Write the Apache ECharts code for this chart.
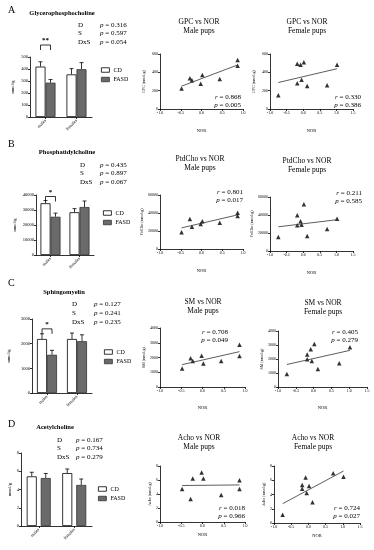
<!DOCTYPE html>
<html><head><meta charset="utf-8">
<script src="https://cdn.jsdelivr.net/npm/echarts/dist/echarts.min.js"></script>
<style>html,body{margin:0;padding:0;background:#fff}#c{width:374px;height:550px}</style>
</head><body><div id="c"></div>
<script>
// ---------------- DATA ----------------
const groups = ['males', 'females'];
const statLabels = ['D', 'S', 'DxS'];
const pupLabels = ['Male pups', 'Female pups'];

// A Glycerophosphocholine (nmol/g)
const gpcCD = [420, 355];
const gpcCDsem = [40, 48];
const gpcFASD = [286, 398];
const gpcFASDsem = [26, 55];
const gpcStats = ['0.316', '0.597', '0.054'];
const gpcSig = ['**', 600];

// B Phosphatidylcholine
const pcCD = [34500, 28500];
const pcCDsem = [1800, 2400];
const pcFASD = [25500, 32000];
const pcFASDsem = [2400, 4000];
const pcStats = ['0.435', '0.897', '0.067'];
const pcSig = ['*', 39000];

// C Sphingomyelin
const smCD = [2190, 2190];
const smCDsem = [210, 240];
const smFASD = [1550, 2100];
const smFASDsem = [180, 260];
const smStats = ['0.127', '0.241', '0.235'];
const smSig = ['*', 2600];

// D Acetylcholine
const achCD = [5.44, 5.8];
const achCDsem = [0.45, 0.45];
const achFASD = [5.26, 4.5];
const achFASDsem = [0.5, 0.65];
const achStats = ['0.167', '0.734', '0.279'];

// NOR discrimination index (x values)
const maleNOR = [-0.48, -0.28, -0.23, -0.02, 0.02, 0.44, 0.87, 0.87];
const femaleNOR = [-0.75, -0.18, -0.18, -0.08, -0.05, 0.02, 0.12, 0.72, 1.02];

const gpcMale = [225, 335, 313, 276, 371, 327, 535, 473];
const gpcFemale = [149, 495, 280, 484, 320, 509, 251, 258, 484];
const gpcMaleRP = ['0.868', '0.005'];
const gpcFemaleRP = ['0.330', '0.386'];

const pcMale = [18500, 33300, 24800, 27800, 30700, 29300, 40400, 36700];
const pcFemale = [15600, 39600, 28500, 33000, 29300, 51900, 16700, 24400, 35900];
const pcMaleRP = ['0.801', '0.017'];
const pcFemaleRP = ['0.211', '0.585'];

const smMale = [1257, 1943, 1760, 2126, 1600, 1760, 2857, 2103];
const smFemale = [923, 2320, 1990, 2700, 1850, 3080, 1280, 1700, 2840];
const smMaleRP = ['0.708', '0.049'];
const smFemaleRP = ['0.405', '0.279'];

const achMale = [4.7, 3.3, 6.2, 7.06, 6.2, 3.86, 5.98, 4.7];
const achFemale = [1.16, 4.8, 5.35, 6.4, 4.2, 5.2, 2.9, 7.0, 6.5];
const achMaleRP = ['0.018', '0.966'];
const achFemaleRP = ['0.724', '0.027'];

// ---------------- BUILD ----------------
const FONT = 'Liberation Serif';
const option = { animation: false, grid: [], xAxis: [], yAxis: [], series: [], graphic: [], legend: [] };

function txt(x, y, text, o) {
  o = o || {};
  const size = o.size || 7;
  const al = o.align || 'left';
  option.graphic.push({
    type: 'text', x: x, y: y, silent: true,
    style: {
      text: text, fill: '#000', fontFamily: FONT, fontSize: size, fontWeight: o.weight || 'normal',
      align: al, verticalAlign: 'middle', textAlign: al, textVerticalAlign: 'middle',
      rich: { i: { fontStyle: 'italic', fontSize: size, fontFamily: FONT, fill: '#000' } }
    }
  });
}

const axisLineS = { show: true, onZero: false, lineStyle: { color: '#000', width: 0.8 } };
const tickS = { show: true, length: 2, lineStyle: { color: '#000', width: 0.8 } };
const labS = (sz, m) => ({ fontSize: sz, color: '#000', fontFamily: FONT, margin: m });

function barPanel(L, d) {
  const gi = option.grid.length;
  option.grid.push({ left: L.left, top: L.top, width: L.width, height: L.height, containLabel: false, outerBoundsMode: 'none' });
  option.xAxis.push({ gridIndex: gi, type: 'category', data: groups, axisLine: axisLineS,
    axisTick: Object.assign({ alignWithLabel: true }, tickS),
    axisLabel: Object.assign({ rotate: 45, interval: 0 }, labS(4.5, 3)), splitLine: { show: false } });
  option.yAxis.push({ gridIndex: gi, type: 'value', min: 0, max: d.max, interval: d.interval,
    axisLine: axisLineS, axisTick: tickS, axisLabel: Object.assign({ formatter: v => String(v) }, labS(4.5, 2)), splitLine: { show: false },
    name: 'nmol/g', nameLocation: 'middle', nameGap: L.nameGap, nameRotate: 90,
    nameTextStyle: { fontSize: 4.5, fontFamily: FONT, color: '#000' } });
  const gapPx = L.barW * L.gap;
  option.series.push({ type: 'bar', name: 'CD', xAxisIndex: gi, yAxisIndex: gi, data: d.cd,
    barWidth: L.barW, barGap: (L.gap * 100) + '%',
    itemStyle: { color: '#fff', borderColor: '#000', borderWidth: 0.8 } });
  option.series.push({ type: 'bar', name: 'FASD', xAxisIndex: gi, yAxisIndex: gi, data: d.fasd,
    barWidth: L.barW, barGap: (L.gap * 100) + '%',
    itemStyle: { color: '#6a6a6a', borderColor: '#333', borderWidth: 0.8 } });
  const err = [];
  d.cd.forEach((v, i) => err.push([i, v, d.cdSem[i], -1]));
  d.fasd.forEach((v, i) => err.push([i, v, d.fasdSem[i], 1]));
  option.series.push({ type: 'custom', xAxisIndex: gi, yAxisIndex: gi, data: err, silent: true,
    renderItem: function (p, api) {
      const i = api.value(0), m = api.value(1), e = api.value(2), side = api.value(3);
      const b = api.coord([i, m]), t = api.coord([i, m + e]);
      const x = b[0] + side * (L.barW + gapPx) / 2;
      const st = { stroke: '#000', lineWidth: 0.8 };
      return { type: 'group', children: [
        { type: 'line', shape: { x1: x, y1: b[1], x2: x, y2: t[1] }, style: st },
        { type: 'line', shape: { x1: x - 2, y1: t[1], x2: x + 2, y2: t[1] }, style: st }
      ] };
    } });
  if (d.sig) {
    option.series.push({ type: 'custom', xAxisIndex: gi, yAxisIndex: gi, data: [[0, d.sig[1]]], silent: true, clip: false,
      renderItem: function (p, api) {
        const c = api.coord([api.value(0), api.value(1)]);
        const x1 = c[0] - (L.barW + gapPx) / 2, x2 = c[0] + (L.barW + gapPx) / 2;
        const st = { stroke: '#000', lineWidth: 0.8, fill: null };
        return { type: 'group', children: [
          { type: 'polyline', shape: { points: [[x1, c[1] + 5], [x1, c[1]], [x2, c[1]], [x2, c[1] + 5]] }, style: st },
          { type: 'text', x: c[0], y: c[1] - 1, style: { text: d.sig[0], fontSize: 7, fontWeight: 'bold', fontFamily: FONT, fill: '#000', align: 'center', verticalAlign: 'bottom' } }
        ] };
      } });
  }
  option.legend.push({ left: L.legLeft, top: L.legTop, orient: 'vertical', data: ['CD', 'FASD'], icon: 'rect',
    itemWidth: 8, itemHeight: 4.5, itemGap: 3.5, selectedMode: false, padding: 0,
    itemStyle: { borderWidth: 0.8 },
    textStyle: { fontSize: 6, fontFamily: FONT, color: '#000', padding: [0, 0, 0, -1] } });
  txt(L.letter[0], L.letter[1], L.letterText, { size: 10 });
  txt(L.title[0], L.title[1], d.title, { size: 6.5, weight: 'bold', align: 'center' });
  statLabels.forEach((s, i) => {
    txt(L.stats[0], L.stats[2] + i * L.stats[3], s, { size: 7 });
    txt(L.stats[1], L.stats[2] + i * L.stats[3], '{i|p} = ' + d.stats[i], { size: 7 });
  });
}

function linfit(xs, ys) {
  const n = xs.length;
  const mx = xs.reduce((a, b) => a + b, 0) / n, my = ys.reduce((a, b) => a + b, 0) / n;
  let sxy = 0, sxx = 0;
  for (let i = 0; i < n; i++) { sxy += (xs[i] - mx) * (ys[i] - my); sxx += (xs[i] - mx) * (xs[i] - mx); }
  const b = sxy / sxx, a = my - b * mx;
  const x0 = Math.min.apply(null, xs), x1 = Math.max.apply(null, xs);
  return [[x0, a + b * x0], [x1, a + b * x1]];
}

function scatterPanel(L, d) {
  const gi = option.grid.length;
  option.grid.push({ left: L.left, top: L.top, width: L.width, height: L.height, containLabel: false, outerBoundsMode: 'none' });
  option.xAxis.push({ gridIndex: gi, type: 'value', min: -1, max: d.xmax, interval: 0.5,
    axisLine: axisLineS, axisTick: tickS, splitLine: { show: false },
    axisLabel: Object.assign({ formatter: v => v.toFixed(1) }, labS(4, 2)),
    name: 'NOR', nameLocation: 'middle', nameGap: L.xNameGap, nameTextStyle: { fontSize: 4.5, fontFamily: FONT, color: '#000' } });
  option.yAxis.push({ gridIndex: gi, type: 'value', min: 0, max: d.ymax, interval: d.yint,
    axisLine: axisLineS, axisTick: tickS, splitLine: { show: false },
    axisLabel: Object.assign({ formatter: v => String(v) }, labS(4, 2)),
    name: d.yname, nameLocation: 'middle', nameGap: L.yNameGap, nameRotate: 90,
    nameTextStyle: { fontSize: 4, fontFamily: FONT, color: '#000' } });
  option.series.push({ type: 'scatter', xAxisIndex: gi, yAxisIndex: gi, symbol: 'triangle', symbolSize: 4.5,
    itemStyle: { color: '#000' }, data: d.x.map((v, i) => [v, d.y[i]]) });
  option.series.push({ type: 'line', xAxisIndex: gi, yAxisIndex: gi, symbol: 'none', silent: true,
    lineStyle: { color: '#333', width: 0.8 }, data: linfit(d.x, d.y) });
  txt(L.t[0], L.t[1], d.title, { size: 7.5, align: 'center' });
  txt(L.t[0], L.t[1] + 9.5, d.pups, { size: 7.5, align: 'center' });
  txt(L.rp[0], L.rp[1], '{i|r} = ' + d.rp[0], { size: 7, align: 'right' });
  txt(L.rp[0], L.rp[1] + 8.5, '{i|p} = ' + d.rp[1], { size: 7, align: 'right' });
}

// ---- bar panels ----
barPanel({ left: 30, top: 57, width: 62, height: 60, barW: 10, gap: 0, nameGap: 15, legLeft: 101, legTop: 67,
  letter: [8, 10], letterText: 'A', title: [62, 13], stats: [78, 100, 25, 8.5] },
  { title: 'Glycerophosphocholine', max: 500, interval: 100, cd: gpcCD, cdSem: gpcCDsem, fasd: gpcFASD, fasdSem: gpcFASDsem, stats: gpcStats, sig: gpcSig });
barPanel({ left: 36, top: 195, width: 58, height: 60, barW: 10, gap: 0, nameGap: 19, legLeft: 103, legTop: 210,
  letter: [8, 144], letterText: 'B', title: [67, 152], stats: [80, 100, 165, 8.5] },
  { title: 'Phosphatidylcholine', max: 40000, interval: 10000, cd: pcCD, cdSem: pcCDsem, fasd: pcFASD, fasdSem: pcFASDsem, stats: pcStats, sig: pcSig });
barPanel({ left: 32, top: 319, width: 60, height: 74, barW: 10, gap: 0, nameGap: 21, legLeft: 104, legTop: 349,
  letter: [8, 283], letterText: 'C', title: [64, 292], stats: [72, 94, 304, 9] },
  { title: 'Sphingomyelin', max: 3000, interval: 1000, cd: smCD, cdSem: smCDsem, fasd: smFASD, fasdSem: smFASDsem, stats: smStats, sig: smSig });
barPanel({ left: 21, top: 453, width: 71, height: 73, barW: 10, gap: 0.4, nameGap: 9, legLeft: 98, legTop: 486,
  letter: [8, 424], letterText: 'D', title: [55, 427], stats: [57, 76, 440, 8.5] },
  { title: 'Acetylcholine', max: 8, interval: 2, cd: achCD, cdSem: achCDsem, fasd: achFASD, fasdSem: achFASDsem, stats: achStats });

// ---- scatter panels ----
scatterPanel({ left: 160, top: 54, width: 83, height: 55, xNameGap: 19, yNameGap: 14, t: [199, 22], rp: [241, 97] },
  { title: 'GPC vs NOR', pups: pupLabels[0], xmax: 1, ymax: 600, yint: 200, yname: 'GPC (nmol/g)', x: maleNOR, y: gpcMale, rp: gpcMaleRP });
scatterPanel({ left: 270, top: 54, width: 83, height: 55, xNameGap: 19, yNameGap: 14, t: [307, 22], rp: [361, 97] },
  { title: 'GPC vs NOR', pups: pupLabels[1], xmax: 1.5, ymax: 600, yint: 200, yname: 'GPC (nmol/g)', x: femaleNOR, y: gpcFemale, rp: gpcFemaleRP });
scatterPanel({ left: 160, top: 195, width: 83, height: 54, xNameGap: 19, yNameGap: 16, t: [200, 159], rp: [243, 192] },
  { title: 'PtdCho vs NOR', pups: pupLabels[0], xmax: 1, ymax: 60000, yint: 20000, yname: 'PtdCho (nmol/g)', x: maleNOR, y: pcMale, rp: pcMaleRP });
scatterPanel({ left: 270, top: 197, width: 83, height: 54, xNameGap: 19, yNameGap: 16, t: [307, 161], rp: [362, 193] },
  { title: 'PtdCho vs NOR', pups: pupLabels[1], xmax: 1.5, ymax: 60000, yint: 20000, yname: 'PtdCho (nmol/g)', x: femaleNOR, y: pcFemale, rp: pcFemaleRP });
scatterPanel({ left: 160, top: 328, width: 85, height: 59, xNameGap: 18, yNameGap: 12, t: [203, 302], rp: [228, 332] },
  { title: 'SM vs NOR', pups: pupLabels[0], xmax: 1, ymax: 4000, yint: 1000, yname: 'SM (nmol/g)', x: maleNOR, y: smMale, rp: smMaleRP });
scatterPanel({ left: 278, top: 331, width: 89, height: 56, xNameGap: 18, yNameGap: 12, t: [323, 303], rp: [358, 332] },
  { title: 'SM vs NOR', pups: pupLabels[1], xmax: 1.5, ymax: 4000, yint: 1000, yname: 'SM (nmol/g)', x: femaleNOR, y: smFemale, rp: smFemaleRP });
scatterPanel({ left: 160, top: 466, width: 85, height: 56, xNameGap: 10, yNameGap: 8, t: [199, 438], rp: [245, 508] },
  { title: 'Acho vs NOR', pups: pupLabels[0], xmax: 1, ymax: 8, yint: 2, yname: 'Acho (nmol/g)', x: maleNOR, y: achMale, rp: achMaleRP });
scatterPanel({ left: 274, top: 466, width: 86, height: 57, xNameGap: 10, yNameGap: 8, t: [313, 438], rp: [360, 508] },
  { title: 'Acho vs NOR', pups: pupLabels[1], xmax: 1.5, ymax: 8, yint: 2, yname: 'Acho (nmol/g)', x: femaleNOR, y: achFemale, rp: achFemaleRP });

const chart = echarts.init(document.getElementById('c'), null, { renderer: 'canvas' });
chart.setOption(option);
</script></body></html>
